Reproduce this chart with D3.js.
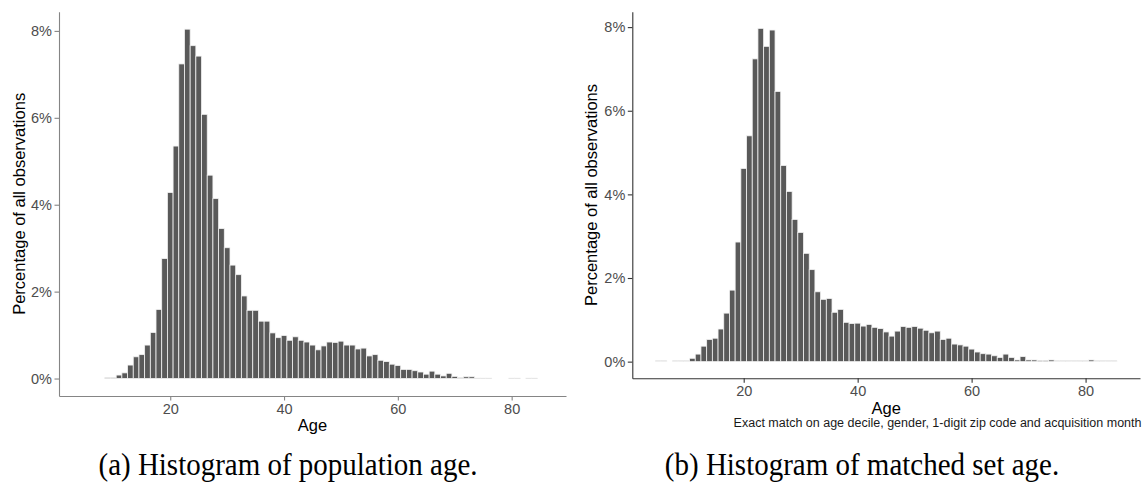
<!DOCTYPE html>
<html>
<head>
<meta charset="utf-8">
<script src="https://cdn.jsdelivr.net/npm/d3@7/dist/d3.min.js"></script>
<style>
  html, body { margin: 0; padding: 0; background: #fff; }
  svg { display: block; }
  .tick text { font-family: "Liberation Sans", Arial, sans-serif; font-size: 14.5px; fill: #4d4d4d; }
  .axis-title { font-family: "Liberation Sans", Arial, sans-serif; font-size: 16.5px; fill: #000; }
  .note { font-family: "Liberation Sans", Arial, sans-serif; font-size: 12.5px; fill: #1a1a1a; }
  .caption { font-family: "Liberation Serif", "Times New Roman", serif; font-size: 29px; fill: #000; }
</style>
</head>
<body>
<svg id="fig" width="1144" height="484"></svg>
<script>
// Age in years (one-year bins centred on each integer age)
const populationAges = d3.range(9, 85);
// Share of all observations at each age, in percent (ages 9..84)
const populationPct = [
  0.02, 0.02, 0.08, 0.13, 0.31, 0.50, 0.55, 0.77, 1.06, 1.59,   // 9-18
  2.76, 4.28, 5.35, 7.24, 8.04, 7.66, 7.42, 6.08, 4.68, 4.14,   // 19-28
  3.45, 3.01, 2.61, 2.39, 1.90, 1.57, 1.57, 1.32, 1.32, 1.05,   // 29-38
  0.94, 0.99, 0.88, 0.96, 0.88, 0.84, 0.77, 0.66, 0.75, 0.84,   // 39-48
  0.83, 0.86, 0.77, 0.77, 0.68, 0.70, 0.52, 0.55, 0.42, 0.39,   // 49-58
  0.33, 0.30, 0.21, 0.21, 0.18, 0.15, 0.10, 0.17, 0.10, 0.06,   // 59-68
  0.12, 0.05, 0.02, 0.04, 0.04, 0.01, 0.01, 0.01, 0, 0,         // 69-78
  0, 0.01, 0.01, 0, 0.01, 0.01                                  // 79-84
];

const matchedAges = d3.range(5, 86);
// Share of the matched set at each age, in percent (ages 5..85)
const matchedPct = [
  0.02, 0.02, 0, 0.02, 0.02, 0.02, 0.08, 0.18, 0.37, 0.53,      // 5-14
  0.56, 0.78, 1.16, 1.71, 2.86, 4.62, 5.40, 7.24, 7.97, 7.54,   // 15-24
  7.93, 6.46, 4.69, 4.07, 3.40, 3.09, 2.59, 2.20, 1.67, 1.49,   // 25-34
  1.51, 1.18, 1.25, 0.94, 0.91, 0.92, 0.85, 0.89, 0.82, 0.79,   // 35-44
  0.71, 0.61, 0.73, 0.84, 0.82, 0.84, 0.80, 0.75, 0.69, 0.73,   // 45-54
  0.53, 0.56, 0.42, 0.40, 0.37, 0.30, 0.23, 0.19, 0.18, 0.14,   // 55-64
  0.10, 0.18, 0.10, 0.04, 0.12, 0.04, 0.04, 0.03, 0.03, 0.04,   // 65-74
  0.02, 0.02, 0.02, 0.02, 0.02, 0.02, 0.04, 0.02, 0.02, 0.02,   // 75-84
  0.02                                                          // 85
];

const xTicks = [20, 40, 60, 80];
const yTicks = [0, 2, 4, 6, 8];
const yTitle = "Percentage of all observations";
const xTitle = "Age";
const matchNote = "Exact match on age decile, gender, 1-digit zip code and acquisition month";
const captions = ["(a) Histogram of population age.", "(b) Histogram of matched set age."];

const svg = d3.select("#fig");

// ggplot-style 5% expansion around the binned age range
const binLo = d3.min(matchedAges) - 0.5, binHi = d3.max(matchedAges) + 0.5;
const pad = (binHi - binLo) * 0.05;
const xDomain = [binLo - pad, binHi + pad];

function histogram(cfg) {
  const { ages, pct, left, right, top, bottom, axisColor, titleX } = cfg;
  const g = svg.append("g");
  const ymax = d3.max(pct);
  const x = d3.scaleLinear().domain(xDomain).range([left, right]);
  const y = d3.scaleLinear().domain([-0.05 * ymax, ymax * 1.05]).range([bottom, top]);

  const data = ages.map((a, i) => ({ age: a, v: pct[i] })).filter(d => d.v > 0);

  g.append("g").selectAll("rect")
    .data(data).join("rect")
    .attr("x", d => x(d.age - 0.5))
    .attr("width", d => x(d.age + 0.5) - x(d.age - 0.5))
    .attr("y", d => y(d.v))
    .attr("height", d => y(0) - y(d.v))
    .attr("fill", "#595959")
    .attr("stroke", "#f2f2f2")
    .attr("stroke-width", 0.8);

  const xAxis = g.append("g")
    .attr("transform", `translate(0,${bottom})`)
    .call(d3.axisBottom(x).tickValues(xTicks).tickSize(4.5).tickSizeOuter(0).tickPadding(3));
  const yAxis = g.append("g")
    .attr("transform", `translate(${left},0)`)
    .call(d3.axisLeft(y).tickValues(yTicks).tickFormat(d => d + "%").tickSize(4.5).tickSizeOuter(0).tickPadding(2.5));
  [xAxis, yAxis].forEach(ax => {
    ax.select(".domain").attr("stroke", axisColor).attr("stroke-width", 1.1);
    ax.selectAll(".tick line").attr("stroke", axisColor).attr("stroke-width", 1.1);
    ax.selectAll(".tick text").attr("font-family", null).attr("font-size", null).attr("fill", null);
  });

  g.append("text").attr("class", "axis-title")
    .attr("transform", `translate(${titleX},${(top + bottom) / 2}) rotate(-90)`)
    .attr("text-anchor", "middle")
    .text(yTitle);

  g.append("text").attr("class", "axis-title")
    .attr("x", (left + right) / 2).attr("y", cfg.ageY)
    .attr("text-anchor", "middle")
    .text(xTitle);
  return g;
}

histogram({ ages: populationAges, pct: populationPct, left: 59, right: 566, top: 11.7, bottom: 396,
            axisColor: "#858585", titleX: 25, ageY: 431 });
const right = histogram({ ages: matchedAges, pct: matchedPct, left: 632.3, right: 1140, top: 11.7, bottom: 378.3,
            axisColor: "#333333", titleX: 596.7, ageY: 413.5 });

right.append("text").attr("class", "note")
  .attr("x", 1141.5).attr("y", 426.5)
  .attr("text-anchor", "end")
  .text(matchNote);

// Sub-figure captions, set slightly tall as in the typeset document
[[288, captions[0]], [862, captions[1]]].forEach(([cx, label]) => {
  svg.append("text").attr("class", "caption")
    .attr("transform", `translate(${cx},475) scale(1,1.12)`)
    .attr("text-anchor", "middle")
    .text(label);
});
</script>
</body>
</html>
